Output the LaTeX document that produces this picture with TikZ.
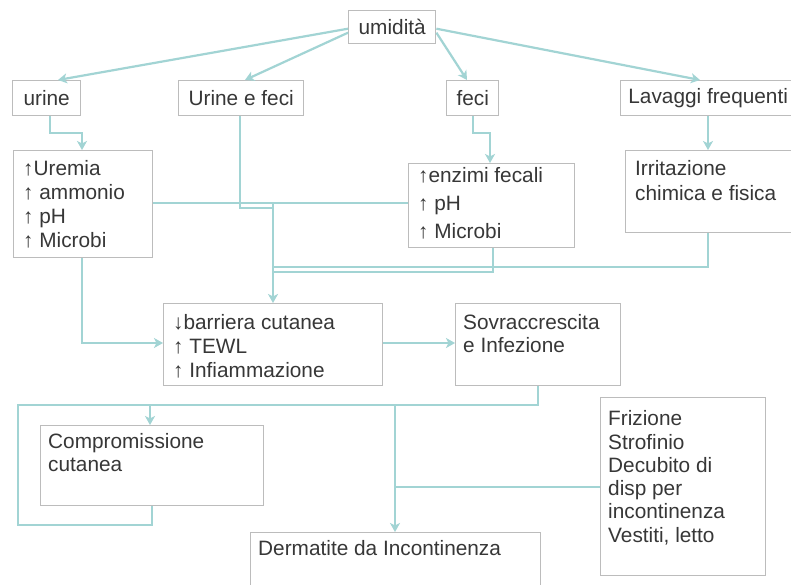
\documentclass[tikz,border=0pt]{standalone}
\usepackage{fontspec}
\setmainfont{Liberation Sans}
\usetikzlibrary{arrows.meta}
\definecolor{connc}{RGB}{162,212,212}
\definecolor{boxline}{RGB}{188,188,188}
\definecolor{txt}{RGB}{55,55,55}
\newcommand{\fl}{\rule{0pt}{16pt}}
\newcommand{\fsz}[1]{\fontsize{20.8}{#1}\selectfont}
\begin{document}
\begin{tikzpicture}[x=1pt,y=-1pt,
  box/.style={draw=boxline, line width=1.4pt, fill=white, inner sep=0pt, anchor=north west, font=\fsz{24}, text=txt},
  lbl/.style={inner sep=0pt, anchor=north west, align=left, text=txt},
  conn/.style={draw=connc, line width=2.2pt},
  arr/.style={conn, -{Stealth[length=9pt,width=10pt,inset=2.5pt]}}
]
\useasboundingbox (0,0) rectangle (791,585);
\clip (0,0) rectangle (791,585);
\fill[white] (0,0) rectangle (791,585);

% boxes
\node[box, minimum width=87pt, minimum height=33pt] (umid) at (348,10) {umidità};
\node[box, minimum width=68pt, minimum height=35pt] (urine) at (12,80) {urine};
\node[box, minimum width=125pt, minimum height=35pt] (uef) at (178,80) {Urine e feci};
\node[box, minimum width=52pt, minimum height=35pt] (feci) at (446,80) {feci};
\node[box, minimum width=175pt, minimum height=35pt] (lav) at (620,80) {Lavaggi frequenti};
\node[box, minimum width=139pt, minimum height=107pt] (uremia) at (13,150) {};
\node[box, minimum width=166pt, minimum height=84pt] (enz) at (408,163) {};
\node[box, minimum width=175pt, minimum height=82pt] (irr) at (625,150) {};
\node[box, minimum width=219pt, minimum height=82pt] (barr) at (163,303) {};
\node[box, minimum width=165pt, minimum height=82pt] (sovr) at (455,303) {};
\node[box, minimum width=223pt, minimum height=80pt] (comp) at (40,425) {};
\node[box, minimum width=165pt, minimum height=178pt] (friz) at (600,397) {};
\node[box, minimum width=290pt, minimum height=70pt] (derm) at (250,532) {};

% texts
\node[lbl, font=\fsz{24}] (uremiaT) at (23,159) {\fl↑Uremia\\↑ ammonio\\↑ pH\\↑ Microbi};
\node[lbl, font=\fsz{28}] (enzT) at (418,166) {\fl↑enzimi fecali\\↑ pH\\↑ Microbi};
\node[lbl, font=\fsz{25}] (irrT) at (635,159.5) {\fl Irritazione\\chimica e fisica};
\node[lbl, font=\fsz{24}] (barrT) at (173,313) {\fl↓barriera cutanea\\↑ TEWL\\↑ Infiammazione};
\node[lbl, font=\fsz{23}] (sovrT) at (463,313.5) {\fl Sovraccrescita\\e Infezione};
\node[lbl, font=\fsz{23.5}] (compT) at (48,432) {\fl Compromissione\\cutanea};
\node[lbl, font=\fsz{23.3}] (frizT) at (608,409.5) {\fl Frizione\\Strofinio\\Decubito di\\disp per\\incontinenza\\Vestiti, letto};
\node[lbl, font=\fsz{24}] (dermT) at (258,539.5) {\fl Dermatite da Incontinenza};

% coordinates
\coordinate (t1) at (58,0);
\coordinate (t2) at (245,0);
\coordinate (t3) at (467,0);
\coordinate (t4) at (700,0);
\coordinate (a1) at (50,133);
\coordinate (a2) at (82,133);
\coordinate (b1) at (473,133);
\coordinate (b2) at (490,133);
\coordinate (c1) at (240,208);
\coordinate (c2) at (273,208);
\coordinate (m1) at (273,203);
\coordinate (e1) at (493,272);
\coordinate (e2) at (273,272);
\coordinate (i1) at (708,267);
\coordinate (i2) at (273,267);
\coordinate (u1) at (82,343);
\coordinate (s1) at (538,405);
\coordinate (s2) at (18,405);
\coordinate (s3) at (18,525);
\coordinate (s4) at (152,525);
\coordinate (d1) at (150,405);
\coordinate (d2) at (395,405);
\coordinate (f1) at (395,487);

% connectors
\draw[arr] ([yshift=-1.5pt]umid.west) -- (urine.north -| t1);
\draw[arr] ([yshift=-5.5pt]umid.west) -- (uef.north -| t2);
\draw[arr] ([yshift=-5.5pt]umid.east) -- (feci.north -| t3);
\draw[arr] ([yshift=-1.5pt]umid.east) -- (lav.north -| t4);
\draw[arr] (urine.south -| a1) -- (a1) -- (a2) -- (uremia.north -| a2);
\draw[arr] (feci.south -| b1) -- (b1) -- (b2) -- (enz.north -| b2);
\draw[arr] (lav.south -| i1) -- (irr.north -| i1);
\draw[conn] (uremia.east |- m1) -- (enz.west |- m1);
\draw[conn] (uef.south -| c1) -- (c1) -- (c2);
\draw[arr] (m1) -- (barr.north -| m1);
\draw[conn] (enz.south -| e1) -- (e1) -- (e2);
\draw[conn] (irr.south -| i1) -- (i1) -- (i2);
\draw[arr] (uremia.south -| u1) -- (u1) -- (barr.west |- u1);
\draw[arr] (barr.east |- u1) -- (sovr.west |- u1);
\draw[conn] (sovr.south -| s1) -- (s1) -- (s2) -- (s3) -- (s4) -- (comp.south -| s4);
\draw[arr] (d1) -- (comp.north -| d1);
\draw[arr] (d2) -- (derm.north -| d2);
\draw[conn] (friz.west |- f1) -- (f1);
\end{tikzpicture}
\end{document}
